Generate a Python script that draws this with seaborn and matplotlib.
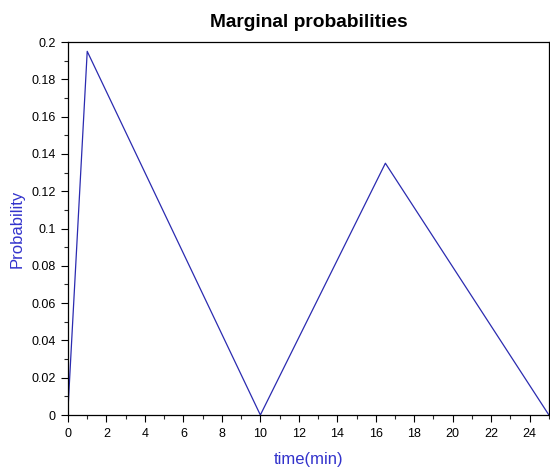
import matplotlib
matplotlib.use("Agg")
import matplotlib.pyplot as plt
import seaborn as sns
import pandas as pd
from matplotlib.ticker import MultipleLocator

time_min = [0, 1, 10, 16.5, 25]
probability = [0.003, 0.195, 0.0, 0.135, 0.0]

sns.set_style("ticks")
plt.rcParams['font.family'] = ['Liberation Sans', 'DejaVu Sans']

df = pd.DataFrame({"time": time_min, "prob": probability})

fig = plt.figure(figsize=(5.5, 4.73), dpi=100)
ax = fig.add_axes([0.1236, 0.1226, 0.998 - 0.1236, 0.9112 - 0.1226])
sns.lineplot(data=df, x="time", y="prob", ax=ax, color="#2b2bb0", linewidth=0.9, sort=False)

ax.set_xlim(0, 25)
ax.set_ylim(0, 0.2)
ax.xaxis.set_major_locator(MultipleLocator(2))
ax.xaxis.set_minor_locator(MultipleLocator(1))
ax.yaxis.set_major_locator(MultipleLocator(0.02))
ax.yaxis.set_minor_locator(MultipleLocator(0.01))
ax.yaxis.set_major_formatter(matplotlib.ticker.FuncFormatter(lambda v, p: f"{v:.2f}".rstrip('0').rstrip('.') if v != 0 else "0"))
ax.tick_params(axis='both', which='major', direction='out', length=5, width=0.8, labelsize=9, colors='black', pad=4)
ax.tick_params(axis='both', which='minor', direction='out', length=3, width=0.8)
ax.tick_params(top=False, right=False)
for s in ax.spines.values():
    s.set_visible(True)
    s.set_color('black')
    s.set_linewidth(0.9)

ax.set_xlabel("time(min)", color="#3333cc", fontsize=12, labelpad=9)
ax.set_ylabel("Probability", color="#3333cc", fontsize=12, labelpad=5)
ax.set_title("Marginal probabilities", fontsize=13.8, fontweight='bold', color='black', pad=11)

fig.savefig("out.png", dpi=100)
